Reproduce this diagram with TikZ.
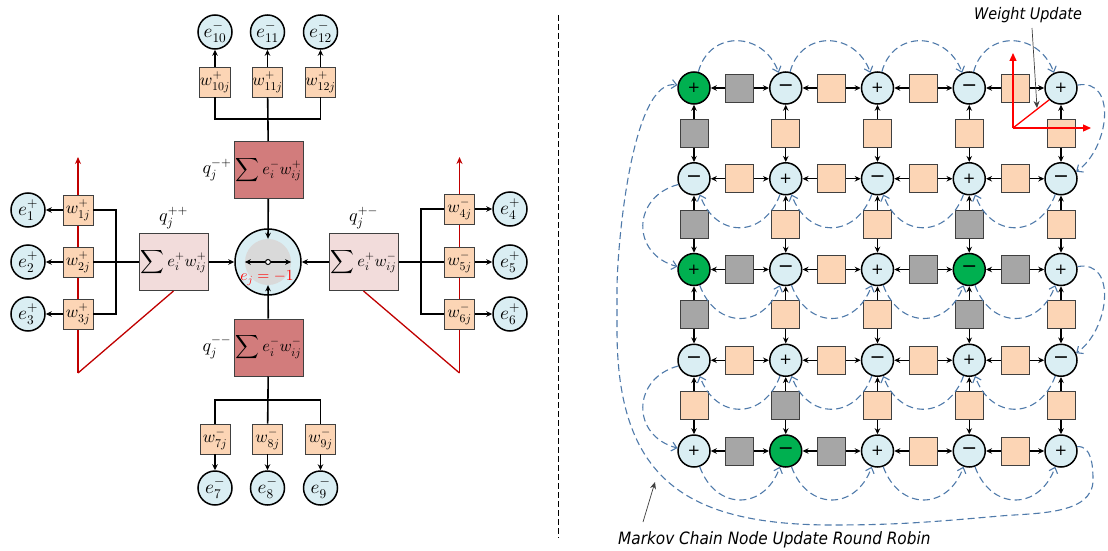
\documentclass[tikz,border=0pt]{standalone}
\usepackage{fontspec}
\usepackage{amsmath}
\usetikzlibrary{arrows.meta, positioning, calc}
\DeclareFontShape{OML}{cmm}{m}{it}{<->cmmi10}{}
\DeclareFontShape{OMS}{cmsy}{m}{n}{<->cmsy10}{}
\DeclareFontShape{OMX}{cmex}{m}{n}{<->cmex10}{}
\DeclareFontShape{OT1}{cmr}{m}{n}{<->cmr10}{}
\newfontfamily\labelfont{DejaVu Sans}[FakeStretch=0.9]
\newfontfamily\signfont{DejaVu Sans}
\definecolor{nodeblue}{RGB}{218,238,243}
\definecolor{nodegreen}{RGB}{0,176,80}
\definecolor{wpeach}{RGB}{252,213,181}
\definecolor{wgray}{RGB}{166,166,166}
\definecolor{sumdark}{RGB}{210,124,124}
\definecolor{sumlight}{RGB}{242,220,219}
\definecolor{innergray}{RGB}{217,217,217}
\definecolor{rrblue}{RGB}{79,122,170}
\definecolor{axisred}{RGB}{192,0,0}
\definecolor{boxborder}{RGB}{64,64,64}
\newcommand{\plusmark}{{\signfont\fontsize{15}{15}\selectfont +}}
\newcommand{\minusmark}{{\signfont\fontsize{19}{19}\selectfont −}}
\tikzset{
  neuron/.style={circle, draw=black, line width=1.5pt, fill=nodeblue, minimum size=34pt, inner sep=0pt, font=\fontsize{19}{21}\selectfont},
  wbox/.style={draw=boxborder, line width=0.9pt, fill=wpeach, minimum size=30pt, inner sep=0pt, font=\fontsize{17}{19}\selectfont},
  sumbox/.style={draw=boxborder, line width=1pt, minimum width=69pt, minimum height=57pt, inner sep=0pt, font=\fontsize{16.5}{19}\selectfont},
  qlabel/.style={font=\fontsize{18}{20}\selectfont, inner sep=1pt},
  link/.style={line width=1.6pt},
  arr/.style={link, -{Stealth[length=6pt,width=5.5pt]}},
  redline/.style={draw=axisred, line width=1.3pt},
  spin/.style={circle, draw=black, line width=1.5pt, fill=nodeblue, minimum size=32pt, inner sep=0pt},
  act11/.style={fill=nodegreen}, act31/.style={fill=nodegreen},
  act34/.style={fill=nodegreen}, act52/.style={fill=nodegreen},
  pw/.style={draw=boxborder, line width=0.9pt, fill=wpeach, minimum size=28pt, inner sep=0pt},
  gw/.style={pw, fill=wgray},
  rr/.style={draw=rrblue, line width=1.1pt, dash pattern=on 7pt off 4pt, -{Straight Barb[length=5pt,width=9pt]}},
  axis/.style={draw=red, line width=1.3pt},
  note/.style={font=\labelfont\itshape\fontsize{16}{18}\selectfont, inner sep=1pt}
}

\begin{document}
\begin{tikzpicture}[x=1pt,y=1pt]
    \useasboundingbox (0,0) rectangle (1108,-551);

    % Neuron j
    \node[circle, draw=black, line width=1.5pt, fill=nodeblue, minimum size=66pt] (ej) at (268,-262) {};
    \node[circle, fill=innergray, minimum size=46pt, inner sep=0pt] (inner) at (ej) {};
    \node[circle, draw=black, line width=1pt, fill=white, minimum size=5pt, inner sep=0pt] (ejc) at (ej) {};
    \draw[arr, line width=1.3pt] (ejc) -- (inner.west);
    \draw[arr, line width=1.3pt] (ejc) -- (inner.east);

    % Summen
    \node[sumbox, fill=sumdark] (qmp) at (268.5,-170) {$\displaystyle\sum e_i^- w_{ij}^+$};
    \node[sumbox, fill=sumdark] (qmm) at (268.5,-347.5) {$\displaystyle\sum e_i^- w_{ij}^-$};
    \node[sumbox, fill=sumlight] (qpp) at (173.5,-262) {$\displaystyle\sum e_i^+ w_{ij}^+$};
    \node[sumbox, fill=sumlight] (qpm) at (363.5,-262) {$\displaystyle\sum e_i^+ w_{ij}^-$};
    \node[qlabel, left=1pt of qmp] (lmp) {$q_j^{-+}$};
    \node[qlabel, left=1pt of qmm] (lmm) {$q_j^{--}$};
    \node[qlabel, above=3pt of qpp] (lpp) {$q_j^{++}$};
    \node[qlabel, above=3pt of qpm] (lpm) {$q_j^{+-}$};
    \draw[arr] (qmp) -- (inner.north);
    \draw[arr] (qmm) -- (inner.south);
    \draw[arr] (qpp) -- (ej);
    \draw[arr] (qpm) -- (ej);
    \node[text=red, font=\fontsize{15.5}{17}\selectfont] (ejval) at (267,-278) {$e_j = -1$};

    % rote Achsen links und rechts
    \coordinate (ltip) at (78,-157);
    \coordinate (lfoot) at (78,-373);
    \coordinate (rtip) at (459.5,-157);
    \coordinate (rfoot) at (459.5,-373);
    \draw[redline, -{Stealth[length=7pt,width=6pt]}] (lfoot) -- (ltip);
    \draw[redline] (lfoot) -- (qpp.south);
    \draw[redline, -{Stealth[length=7pt,width=6pt]}] (rfoot) -- (rtip);
    \draw[redline] (rfoot) -- (qpm.south);

    % oben: e10 bis e12
    \foreach \i/\x in {10/215,11/267.5,12/320.5} {
        \node[wbox] (w\i) at (\x,-82) {$w_{\i j}^+$};
        \node[neuron] (e\i) at (\x,-32) {$e_{\i}^-$};
        \draw[arr] (w\i) -- (e\i);
    }
    \coordinate (topbar) at (267.5,-119);
    \draw[link] (w10.south) |- (topbar) -| (w12.south);
    \draw[link] (w11) -- (qmp);

    % unten: e7 bis e9
    \foreach \i/\x in {7/215,8/267.5,9/320.5} {
        \node[wbox] (w\i) at (\x,-439) {$w_{\i j}^-$};
        \node[neuron] (e\i) at (\x,-488) {$e_{\i}^-$};
        \draw[arr] (w\i) -- (e\i);
    }
    \coordinate (botbar) at (267.5,-400);
    \draw[link] (w7.north) |- (botbar) -| (w9.north);
    \draw[link] (qmm) -- (w8);

    % links: e1 bis e3
    \foreach \i/\y in {1/210,2/262,3/314} {
        \node[wbox] (w\i) at (78,-\y) {$w_{\i j}^+$};
        \node[neuron] (e\i) at (28,-\y) {$e_{\i}^+$};
        \draw[arr] (w\i) -- (e\i);
    }
    \coordinate (lbar) at (116,-262);
    \draw[link] (w1.east) -| (lbar) |- (w3.east);
    \draw[link] (w2) -- (qpp);

    % rechts: e4 bis e6
    \foreach \i/\y in {4/209,5/262,6/314} {
        \node[wbox] (w\i) at (459.5,-\y) {$w_{\i j}^-$};
        \node[neuron] (e\i) at (510,-\y) {$e_{\i}^+$};
        \draw[arr] (w\i) -- (e\i);
    }
    \coordinate (rbar) at (421,-262);
    \draw[link] (w4.west) -| (rbar) |- (w6.west);
    \draw[link] (w5) -- (qpm);

    % Trennlinie
    \coordinate (septop) at (558,-15);
    \coordinate (sepbot) at (558,-538);
    \draw[line width=0.8pt, dash pattern=on 6pt off 3pt] (septop) -- (sepbot);

    % Gitter
    \foreach \r in {1,...,5} {
        \foreach \c in {1,...,5} {
            \node[spin, act\r\c/.try] (c\r\c) at ({694+91.75*(\c-1)},{-88-90.75*(\r-1)})
                {\ifodd\numexpr\r+\c\relax\minusmark\else\plusmark\fi};
        }
    }
    % Gewichte horizontal
    \foreach \r/\c/\t in {1/1/gw,1/2/pw,1/3/pw,1/4/pw, 2/1/pw,2/2/pw,2/3/pw,2/4/pw,
                          3/1/gw,3/2/pw,3/3/gw,3/4/gw, 4/1/pw,4/2/pw,4/3/pw,4/4/pw,
                          5/1/gw,5/2/gw,5/3/pw,5/4/pw} {
        \pgfmathtruncatemacro\n{\c+1}
        \node[\t] (h\r\c) at ($(c\r\c)!0.5!(c\r\n)$) {};
        \draw[arr, line width=1.4pt] (h\r\c) -- (c\r\c);
        \draw[arr, line width=1.4pt] (h\r\c) -- (c\r\n);
    }
    % Gewichte vertikal
    \foreach \r/\c/\t in {1/1/gw,1/2/pw,1/3/pw,1/4/pw,1/5/pw, 2/1/gw,2/2/pw,2/3/pw,2/4/gw,2/5/pw,
                          3/1/gw,3/2/pw,3/3/pw,3/4/gw,3/5/pw, 4/1/pw,4/2/gw,4/3/pw,4/4/pw,4/5/pw} {
        \pgfmathtruncatemacro\n{\r+1}
        \node[\t] (v\r\c) at ($(c\r\c)!0.5!(c\n\c)$) {};
        \draw[arr, line width=1.4pt] (v\r\c) -- (c\r\c);
        \draw[arr, line width=1.4pt] (v\r\c) -- (c\n\c);
    }

    % Round Robin
    \foreach \c in {1,...,4} {
        \pgfmathtruncatemacro\n{\c+1}
        \draw[rr] (c1\c.75) to[out=75,in=110,looseness=1.4] (c1\n.115);
        \draw[rr] (c2\n.250) to[out=-110,in=-70,looseness=1.5] (c2\c.290);
        \draw[rr] (c3\c.290) to[out=-70,in=-110,looseness=1.5] (c3\n.250);
        \draw[rr] (c4\n.250) to[out=-110,in=-70,looseness=1.5] (c4\c.290);
        \draw[rr] (c5\c.290) to[out=-70,in=-110,looseness=1.5] (c5\n.250);
    }
    \draw[rr] (c15.10) to[out=10,in=35,looseness=1.2] (c25.25);
    \draw[rr] (c35.10) to[out=10,in=35,looseness=1.2] (c45.25);
    \draw[rr] (c21.200) to[out=195,in=165,looseness=1.5] (c31.170);
    \draw[rr] (c41.200) to[out=195,in=165,looseness=1.5] (c51.170);
    \draw[rr] (c55.15) to[out=5,in=90] (1093,-480)
        to[out=-90,in=5,looseness=0.9] (1000,-516)
        to[out=185,in=0] (833,-525)
        to[out=180,in=-90,looseness=1.3] (617,-330)
        -- (617,-290)
        to[out=90,in=170,looseness=0.55] (c11.170);

    % Weight Update
    \coordinate (ax) at (1013,-128);
    \coordinate (axy) at (1013,-53);
    \coordinate (axx) at (1091,-128);
    \draw[axis, -{Triangle[length=8pt,width=7pt]}] (ax) -- (axy);
    \draw[axis, -{Triangle[length=8pt,width=7pt]}] (ax) -- (axx);
    \draw[axis] (ax) -- (c15.225);
    \node[note, anchor=west] (wutext) at (973,-15) {Weight Update};
    \coordinate (wupd) at (1037,-108);
    \draw[black!75, line width=0.7pt, -{Stealth[length=7pt,width=6pt]}] (1032,-28) -- (wupd);

    % Markov Chain
    \node[note, anchor=west, font=\labelfont\itshape\fontsize{17}{19}\selectfont] (mctext) at (617,-540) {Markov Chain Node Update Round Robin};
    \coordinate (mcstart) at (643,-522);
    \coordinate (mcend) at (655,-482);
    \draw[black!75, line width=0.7pt, -{Stealth[length=7pt,width=6pt]}] (mcstart) -- (mcend);
\end{tikzpicture}
\end{document}
